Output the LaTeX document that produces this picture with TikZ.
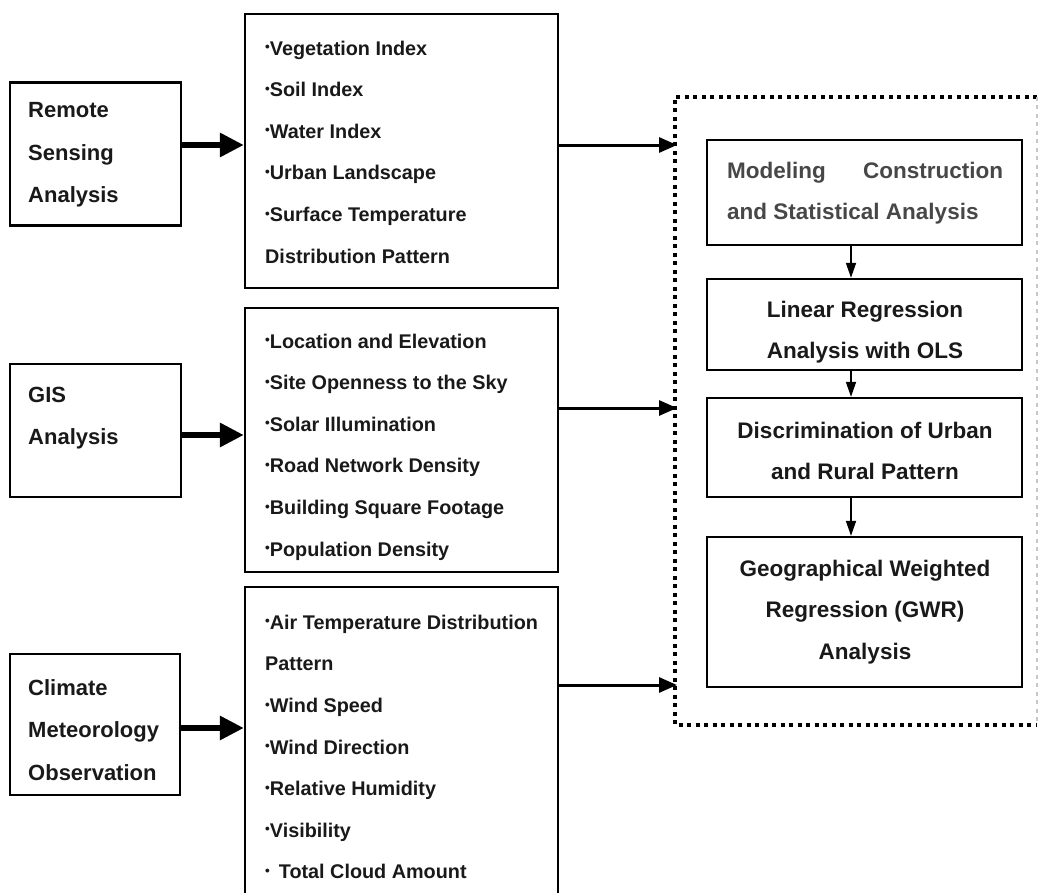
\documentclass[tikz,border=0pt]{standalone}
\usepackage{fontspec}
\usepackage{graphicx}
\setmainfont{Liberation Sans}
\usetikzlibrary{arrows.meta}
\newcommand{\bu}{\raisebox{0.33ex}{\scalebox{0.68}{•}}}
\begin{document}
\begin{tikzpicture}[x=1bp,y=-1bp,
  box/.style={draw=black, line width=2.3bp, inner sep=0pt},
  ltxt/.style={inner sep=0pt, align=left, anchor=west, text=black!90,
    font=\fontsize{22bp}{42.5bp}\selectfont\bfseries},
  mtxt/.style={inner sep=0pt, align=left, anchor=west, text=black!90,
    font=\fontsize{19.8bp}{41.6bp}\selectfont\bfseries},
  rtxt/.style={inner sep=0pt, align=center, anchor=center, text=black!90,
    font=\fontsize{22.5bp}{41.5bp}\selectfont\bfseries},
  bigarrow/.style={line width=6.5bp, -{Triangle[length=24bp,width=23bp]}},
  midarrow/.style={line width=3bp, -{Triangle[length=18bp,width=15bp]}},
  smallarrow/.style={line width=1.7bp, -{Triangle[length=15bp,width=10bp]}},
  dotline/.style={line width=4bp, dash pattern=on 4bp off 4.5bp},
  faintline/.style={line width=1.5bp, draw=black!22, dash pattern=on 4bp off 4.5bp}
]
\useasboundingbox (0,0) rectangle (1039,893);
\clip (0,0) rectangle (1039,893);

% left boxes
\node[box, minimum width=171bp, minimum height=143bp] (rs) at (95.5,154) {};
\node[box, minimum width=171bp, minimum height=133bp] (gis) at (95.5,430.5) {};
\node[box, minimum width=170bp, minimum height=141bp] (cl) at (95,724.5) {};
\node[ltxt] (rsT) at (28,155) {Remote\\Sensing\\Analysis};
\node[ltxt] (gisT) at (28,418) {GIS\\Analysis};
\node[ltxt] (clT) at (28,730) {Climate\\Meteorology\\Observation};

% middle boxes
\node[box, minimum width=313bp, minimum height=274bp] (b1) at (401.5,151) {};
\node[box, minimum width=313bp, minimum height=264bp] (b2) at (401.5,440) {};
\node[box, minimum width=313bp, minimum height=320bp] (b3) at (401.5,747) {};
\node[mtxt] (b1T) at (265,152) {\bu Vegetation Index\\\bu Soil Index\\\bu Water Index\\\bu Urban Landscape\\\bu Surface Temperature\\Distribution Pattern};
\node[mtxt] (b2T) at (265,447) {\bu Location and Elevation\\\bu Site Openness to the Sky\\\bu Solar Illumination\\\bu Road Network Density\\\bu Building Square Footage\\\bu Population Density};
\node[mtxt] (b3T) at (265,747) {\bu Air Temperature Distribution\\Pattern\\\bu Wind Speed\\\bu Wind Direction\\\bu Relative Humidity\\\bu Visibility\\\bu\hspace{9bp}Total Cloud Amount};

% dotted frame
\node[minimum width=362bp, minimum height=628bp, inner sep=0pt] (frame) at (856,411) {};
\draw[dotline] (frame.north east) -- (frame.north west) -- (frame.south west) -- (frame.south east);
\draw[faintline] (frame.north east) -- (frame.south east);

% right boxes
\node[box, minimum width=315bp, minimum height=105bp] (mc) at (864.5,192.5) {};
\node[box, minimum width=315bp, minimum height=91bp] (lr) at (864.5,324.5) {};
\node[box, minimum width=315bp, minimum height=99bp] (du) at (864.5,447.5) {};
\node[box, minimum width=315bp, minimum height=150bp] (gw) at (864.5,612) {};
\node[rtxt, align=left, anchor=west, text=black!72] (mcT) at (727,193) {\makebox[276bp][l]{Modeling\hfill Construction}\\and Statistical Analysis};
\node[rtxt] (lrT) at (865,332) {Linear Regression\\Analysis with OLS};
\node[rtxt] (duT) at (865,451) {Discrimination of Urban\\and Rural Pattern};
\node[rtxt] (gwT) at (865,612) {Geographical Weighted\\Regression (GWR)\\Analysis};

% helper coordinates
\coordinate (ya) at (0,145);
\coordinate (yb) at (0,435);
\coordinate (yc) at (0,728);
\coordinate (yd) at (0,408);
\coordinate (ye) at (0,685);
\coordinate (xs) at (851,0);
\coordinate (xt) at (677,0);

% thick arrows
\draw[bigarrow] (rs.east |- ya) -- (b1.west |- ya);
\draw[bigarrow] (gis.east |- yb) -- (b2.west |- yb);
\draw[bigarrow] (cl.east |- yc) -- (b3.west |- yc);

% medium arrows
\draw[midarrow] (b1.east |- ya) -- (xt |- ya);
\draw[midarrow] (b2.east |- yd) -- (xt |- yd);
\draw[midarrow] (b3.east |- ye) -- (xt |- ye);

% small arrows
\draw[smallarrow] (mc.south -| xs) -- (lr.north -| xs);
\draw[smallarrow] (lr.south -| xs) -- (du.north -| xs);
\draw[smallarrow] (du.south -| xs) -- (gw.north -| xs);
\end{tikzpicture}
\end{document}
